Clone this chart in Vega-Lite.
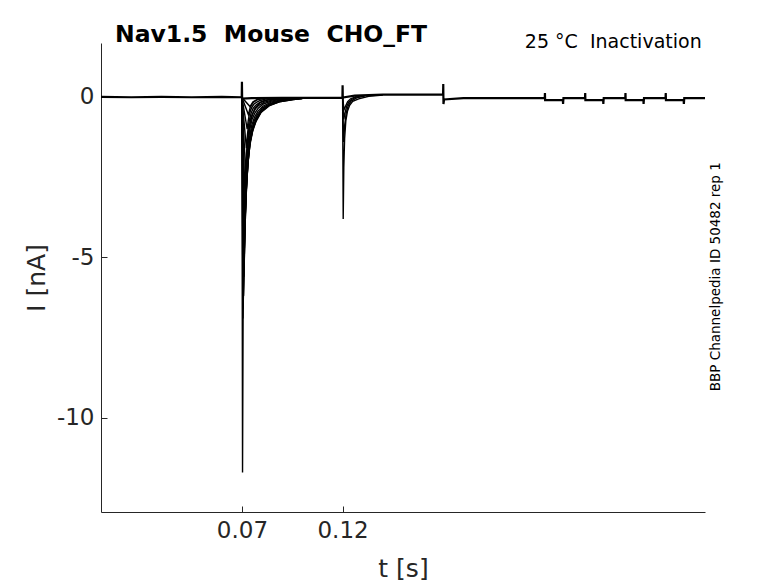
{
  "$schema": "https://vega.github.io/schema/vega-lite/v6.json",
  "autosize": {"type": "none"},
  "width": 604,
  "height": 469,
  "padding": {"left": 101, "top": 43, "right": 73, "bottom": 71},
  "background": "white",
  "title": {
    "text": "Nav1.5\u00a0 Mouse\u00a0 CHO_FT",
    "anchor": "start",
    "frame": "group",
    "dx": 14,
    "dy": 34,
    "offset": 1,
    "baseline": "alphabetic",
    "font": "DejaVu Sans",
    "fontSize": 23.5,
    "fontWeight": "bold",
    "color": "black"
  },
  "config": {
    "view": {"stroke": null},
    "font": "DejaVu Sans",
    "axis": {
      "grid": false,
      "domainColor": "#262626",
      "domainWidth": 1,
      "tickColor": "#262626",
      "tickWidth": 1,
      "tickSize": -6,
      "labelColor": "#262626",
      "labelFont": "DejaVu Sans",
      "labelFontSize": 23,
      "titleColor": "#262626",
      "titleFont": "DejaVu Sans",
      "titleFontSize": 25,
      "titleFontWeight": "normal"
    }
  },
  "datasets": {
    "base": [
      {"t": 0.0, "i": 0.0}, {"t": 0.015, "i": -0.01}, {"t": 0.03, "i": 0.0}, {"t": 0.045, "i": -0.01},
      {"t": 0.06, "i": 0.0}, {"t": 0.0699, "i": -0.01}, {"t": 0.07, "i": 0.47}, {"t": 0.0701, "i": -0.05},
      {"t": 0.075, "i": -0.04}, {"t": 0.09, "i": -0.03}, {"t": 0.1199, "i": -0.03}, {"t": 0.12, "i": 0.36},
      {"t": 0.1201, "i": -0.02}, {"t": 0.126, "i": 0.04}, {"t": 0.14, "i": 0.07}, {"t": 0.1699, "i": 0.07},
      {"t": 0.17, "i": 0.4}, {"t": 0.1701, "i": -0.22}, {"t": 0.1704, "i": -0.08}, {"t": 0.18, "i": -0.04},
      {"t": 0.2204, "i": -0.04}, {"t": 0.2205, "i": 0.12}, {"t": 0.2206, "i": -0.1}, {"t": 0.2294, "i": -0.1},
      {"t": 0.2295, "i": -0.22}, {"t": 0.2297, "i": -0.04}, {"t": 0.2404, "i": -0.04}, {"t": 0.2405, "i": 0.12},
      {"t": 0.2406, "i": -0.1}, {"t": 0.2494, "i": -0.1}, {"t": 0.2495, "i": -0.22}, {"t": 0.2497, "i": -0.04},
      {"t": 0.2604, "i": -0.04}, {"t": 0.2605, "i": 0.12}, {"t": 0.2606, "i": -0.1}, {"t": 0.2694, "i": -0.1},
      {"t": 0.2695, "i": -0.22}, {"t": 0.2697, "i": -0.04}, {"t": 0.2804, "i": -0.04}, {"t": 0.2805, "i": 0.12},
      {"t": 0.2806, "i": -0.1}, {"t": 0.2894, "i": -0.1}, {"t": 0.2895, "i": -0.22}, {"t": 0.2897, "i": -0.04},
      {"t": 0.3, "i": -0.04}
    ],
    "sweeps": [
      {"s": "p1", "t": 0.07, "i": -0.02}, {"s": "p1", "t": 0.0703, "i": -11.7}, {"s": "p1", "t": 0.0706, "i": -6.5},
      {"s": "p1", "t": 0.071, "i": -4.2}, {"s": "p1", "t": 0.0715, "i": -2.8}, {"s": "p1", "t": 0.0722, "i": -1.8},
      {"s": "p1", "t": 0.0732, "i": -1.1}, {"s": "p1", "t": 0.0745, "i": -0.65}, {"s": "p1", "t": 0.0765, "i": -0.35},
      {"s": "p1", "t": 0.079, "i": -0.18}, {"s": "p1", "t": 0.083, "i": -0.09}, {"s": "p1", "t": 0.09, "i": -0.05},
      {"s": "p1", "t": 0.1, "i": -0.03},

      {"s": "p2", "t": 0.07, "i": -0.02}, {"s": "p2", "t": 0.0705, "i": -6.9}, {"s": "p2", "t": 0.071, "i": -5.18},
      {"s": "p2", "t": 0.0715, "i": -3.93}, {"s": "p2", "t": 0.0721, "i": -2.97}, {"s": "p2", "t": 0.0729, "i": -2.14},
      {"s": "p2", "t": 0.0739, "i": -1.52}, {"s": "p2", "t": 0.0753, "i": -1.07}, {"s": "p2", "t": 0.077, "i": -0.76},
      {"s": "p2", "t": 0.0795, "i": -0.48}, {"s": "p2", "t": 0.0835, "i": -0.28}, {"s": "p2", "t": 0.0885, "i": -0.15},
      {"s": "p2", "t": 0.0955, "i": -0.08}, {"s": "p2", "t": 0.1, "i": -0.05},

      {"s": "p3", "t": 0.07, "i": -0.02}, {"s": "p3", "t": 0.0706, "i": -6.6}, {"s": "p3", "t": 0.0711, "i": -4.95},
      {"s": "p3", "t": 0.0716, "i": -3.76}, {"s": "p3", "t": 0.0722, "i": -2.84}, {"s": "p3", "t": 0.073, "i": -2.05},
      {"s": "p3", "t": 0.074, "i": -1.45}, {"s": "p3", "t": 0.0754, "i": -1.02}, {"s": "p3", "t": 0.0771, "i": -0.73},
      {"s": "p3", "t": 0.0796, "i": -0.46}, {"s": "p3", "t": 0.0836, "i": -0.26}, {"s": "p3", "t": 0.0886, "i": -0.15},
      {"s": "p3", "t": 0.0956, "i": -0.08}, {"s": "p3", "t": 0.1, "i": -0.05},

      {"s": "p4", "t": 0.07, "i": -0.02}, {"s": "p4", "t": 0.0708, "i": -6.2}, {"s": "p4", "t": 0.0713, "i": -4.65},
      {"s": "p4", "t": 0.0718, "i": -3.53}, {"s": "p4", "t": 0.0724, "i": -2.67}, {"s": "p4", "t": 0.0732, "i": -1.92},
      {"s": "p4", "t": 0.0742, "i": -1.36}, {"s": "p4", "t": 0.0756, "i": -0.96}, {"s": "p4", "t": 0.0773, "i": -0.68},
      {"s": "p4", "t": 0.0798, "i": -0.43}, {"s": "p4", "t": 0.0838, "i": -0.25}, {"s": "p4", "t": 0.0888, "i": -0.14},
      {"s": "p4", "t": 0.0958, "i": -0.07}, {"s": "p4", "t": 0.1, "i": -0.04},

      {"s": "p5", "t": 0.07, "i": -0.02}, {"s": "p5", "t": 0.071, "i": -5.6}, {"s": "p5", "t": 0.0715, "i": -4.2},
      {"s": "p5", "t": 0.072, "i": -3.19}, {"s": "p5", "t": 0.0726, "i": -2.41}, {"s": "p5", "t": 0.0734, "i": -1.74},
      {"s": "p5", "t": 0.0744, "i": -1.23}, {"s": "p5", "t": 0.0758, "i": -0.87}, {"s": "p5", "t": 0.0775, "i": -0.62},
      {"s": "p5", "t": 0.08, "i": -0.39}, {"s": "p5", "t": 0.084, "i": -0.22}, {"s": "p5", "t": 0.089, "i": -0.12},
      {"s": "p5", "t": 0.096, "i": -0.07}, {"s": "p5", "t": 0.1, "i": -0.04},

      {"s": "p6", "t": 0.07, "i": -0.02}, {"s": "p6", "t": 0.0712, "i": -4.9}, {"s": "p6", "t": 0.0717, "i": -3.68},
      {"s": "p6", "t": 0.0722, "i": -2.79}, {"s": "p6", "t": 0.0728, "i": -2.11}, {"s": "p6", "t": 0.0736, "i": -1.52},
      {"s": "p6", "t": 0.0746, "i": -1.08}, {"s": "p6", "t": 0.076, "i": -0.76}, {"s": "p6", "t": 0.0777, "i": -0.54},
      {"s": "p6", "t": 0.0802, "i": -0.34}, {"s": "p6", "t": 0.0842, "i": -0.2}, {"s": "p6", "t": 0.0892, "i": -0.11},
      {"s": "p6", "t": 0.0962, "i": -0.06}, {"s": "p6", "t": 0.1, "i": -0.04},

      {"s": "p7", "t": 0.07, "i": -0.02}, {"s": "p7", "t": 0.0714, "i": -4.1}, {"s": "p7", "t": 0.0719, "i": -3.08},
      {"s": "p7", "t": 0.0724, "i": -2.34}, {"s": "p7", "t": 0.073, "i": -1.76}, {"s": "p7", "t": 0.0738, "i": -1.27},
      {"s": "p7", "t": 0.0748, "i": -0.9}, {"s": "p7", "t": 0.0762, "i": -0.64}, {"s": "p7", "t": 0.0779, "i": -0.45},
      {"s": "p7", "t": 0.0804, "i": -0.29}, {"s": "p7", "t": 0.0844, "i": -0.16}, {"s": "p7", "t": 0.0894, "i": -0.09},
      {"s": "p7", "t": 0.0964, "i": -0.05}, {"s": "p7", "t": 0.1, "i": -0.03},

      {"s": "p8", "t": 0.07, "i": -0.02}, {"s": "p8", "t": 0.0716, "i": -3.2}, {"s": "p8", "t": 0.0721, "i": -2.4},
      {"s": "p8", "t": 0.0726, "i": -1.82}, {"s": "p8", "t": 0.0732, "i": -1.38}, {"s": "p8", "t": 0.074, "i": -0.99},
      {"s": "p8", "t": 0.075, "i": -0.7}, {"s": "p8", "t": 0.0764, "i": -0.5}, {"s": "p8", "t": 0.0781, "i": -0.35},
      {"s": "p8", "t": 0.0806, "i": -0.22}, {"s": "p8", "t": 0.0846, "i": -0.13}, {"s": "p8", "t": 0.0896, "i": -0.07},
      {"s": "p8", "t": 0.0966, "i": -0.04}, {"s": "p8", "t": 0.1, "i": -0.03},

      {"s": "p9", "t": 0.07, "i": -0.02}, {"s": "p9", "t": 0.0719, "i": -2.4}, {"s": "p9", "t": 0.0724, "i": -1.8},
      {"s": "p9", "t": 0.0729, "i": -1.37}, {"s": "p9", "t": 0.0735, "i": -1.03}, {"s": "p9", "t": 0.0743, "i": -0.74},
      {"s": "p9", "t": 0.0753, "i": -0.53}, {"s": "p9", "t": 0.0767, "i": -0.37}, {"s": "p9", "t": 0.0784, "i": -0.26},
      {"s": "p9", "t": 0.0809, "i": -0.17}, {"s": "p9", "t": 0.0849, "i": -0.1}, {"s": "p9", "t": 0.0899, "i": -0.05},
      {"s": "p9", "t": 0.1, "i": -0.03},

      {"s": "p10", "t": 0.07, "i": -0.02}, {"s": "p10", "t": 0.0722, "i": -1.6}, {"s": "p10", "t": 0.0727, "i": -1.2},
      {"s": "p10", "t": 0.0732, "i": -0.91}, {"s": "p10", "t": 0.0738, "i": -0.69}, {"s": "p10", "t": 0.0746, "i": -0.5},
      {"s": "p10", "t": 0.0756, "i": -0.35}, {"s": "p10", "t": 0.077, "i": -0.25}, {"s": "p10", "t": 0.0787, "i": -0.18},
      {"s": "p10", "t": 0.0812, "i": -0.11}, {"s": "p10", "t": 0.0852, "i": -0.06}, {"s": "p10", "t": 0.0902, "i": -0.04},
      {"s": "p10", "t": 0.1, "i": -0.03},

      {"s": "p11", "t": 0.07, "i": -0.02}, {"s": "p11", "t": 0.0726, "i": -1.0}, {"s": "p11", "t": 0.0731, "i": -0.75},
      {"s": "p11", "t": 0.0736, "i": -0.57}, {"s": "p11", "t": 0.0742, "i": -0.43}, {"s": "p11", "t": 0.075, "i": -0.31},
      {"s": "p11", "t": 0.076, "i": -0.22}, {"s": "p11", "t": 0.0774, "i": -0.16}, {"s": "p11", "t": 0.0791, "i": -0.11},
      {"s": "p11", "t": 0.0816, "i": -0.07}, {"s": "p11", "t": 0.0856, "i": -0.04}, {"s": "p11", "t": 0.1, "i": -0.03},

      {"s": "p12", "t": 0.07, "i": -0.02}, {"s": "p12", "t": 0.0732, "i": -0.55}, {"s": "p12", "t": 0.0742, "i": -0.31},
      {"s": "p12", "t": 0.0756, "i": -0.17}, {"s": "p12", "t": 0.0774, "i": -0.09}, {"s": "p12", "t": 0.08, "i": -0.05},
      {"s": "p12", "t": 0.085, "i": -0.03},

      {"s": "p13", "t": 0.07, "i": -0.02}, {"s": "p13", "t": 0.074, "i": -0.3}, {"s": "p13", "t": 0.0755, "i": -0.15},
      {"s": "p13", "t": 0.078, "i": -0.07}, {"s": "p13", "t": 0.083, "i": -0.03},

      {"s": "q1", "t": 0.12, "i": 0.0}, {"s": "q1", "t": 0.1203, "i": -3.8}, {"s": "q1", "t": 0.1206, "i": -2.2},
      {"s": "q1", "t": 0.121, "i": -1.3}, {"s": "q1", "t": 0.1216, "i": -0.75}, {"s": "q1", "t": 0.1224, "i": -0.45},
      {"s": "q1", "t": 0.1235, "i": -0.26}, {"s": "q1", "t": 0.125, "i": -0.14}, {"s": "q1", "t": 0.128, "i": -0.06},
      {"s": "q1", "t": 0.133, "i": 0.02}, {"s": "q1", "t": 0.14, "i": 0.06},

      {"s": "q2", "t": 0.12, "i": 0.0}, {"s": "q2", "t": 0.1205, "i": -1.4}, {"s": "q2", "t": 0.121, "i": -0.9},
      {"s": "q2", "t": 0.1218, "i": -0.5}, {"s": "q2", "t": 0.1228, "i": -0.27}, {"s": "q2", "t": 0.1242, "i": -0.13},
      {"s": "q2", "t": 0.127, "i": -0.03}, {"s": "q2", "t": 0.131, "i": 0.03},

      {"s": "q3", "t": 0.12, "i": 0.0}, {"s": "q3", "t": 0.1206, "i": -0.7}, {"s": "q3", "t": 0.1212, "i": -0.5},
      {"s": "q3", "t": 0.122, "i": -0.3}, {"s": "q3", "t": 0.123, "i": -0.17}, {"s": "q3", "t": 0.1245, "i": -0.08},
      {"s": "q3", "t": 0.127, "i": 0.0}, {"s": "q3", "t": 0.13, "i": 0.04},

      {"s": "q4", "t": 0.12, "i": 0.0}, {"s": "q4", "t": 0.1207, "i": -0.4}, {"s": "q4", "t": 0.1215, "i": -0.28},
      {"s": "q4", "t": 0.1225, "i": -0.15}, {"s": "q4", "t": 0.124, "i": -0.06}, {"s": "q4", "t": 0.127, "i": 0.02}
    ]
  },
  "layer": [
    {
      "data": {"name": "base"},
      "mark": {"type": "line", "color": "black", "strokeWidth": 2.2},
      "encoding": {
        "x": {
          "field": "t",
          "type": "quantitative",
          "scale": {"domain": [0, 0.3], "nice": false, "zero": false},
          "axis": {"values": [0.07, 0.12], "format": ".2f", "title": "t [s]", "labelPadding": 13, "titlePadding": 14}
        },
        "y": {
          "field": "i",
          "type": "quantitative",
          "scale": {"domain": [-12.93, 1.68], "nice": false, "zero": false},
          "axis": {
            "values": [-10, -5, 0],
            "title": "I [nA]",
            "labelPadding": 13,
            "titlePadding": 7,
            "labelExpr": "replace(datum.label, '\u2212', '-')"
          }
        }
      }
    },
    {
      "data": {"name": "sweeps"},
      "mark": {"type": "line", "color": "black", "strokeWidth": 1.4},
      "encoding": {
        "x": {"field": "t", "type": "quantitative"},
        "y": {"field": "i", "type": "quantitative"},
        "detail": {"field": "s", "type": "nominal"}
      }
    },
    {
      "data": {"values": [{}]},
      "mark": {
        "type": "text",
        "text": "25 \u00b0C\u00a0 Inactivation",
        "align": "right",
        "baseline": "alphabetic",
        "font": "DejaVu Sans",
        "fontSize": 19,
        "color": "black"
      },
      "encoding": {"x": {"datum": 0.29835}, "y": {"datum": 1.53}}
    },
    {
      "data": {"values": [{}]},
      "mark": {
        "type": "text",
        "text": "BBP Channelpedia ID 50482 rep 1",
        "align": "center",
        "baseline": "middle",
        "angle": 270,
        "font": "DejaVu Sans",
        "fontSize": 13.5,
        "color": "black"
      },
      "encoding": {"x": {"datum": 0.3055}, "y": {"datum": -5.6}}
    }
  ]
}
